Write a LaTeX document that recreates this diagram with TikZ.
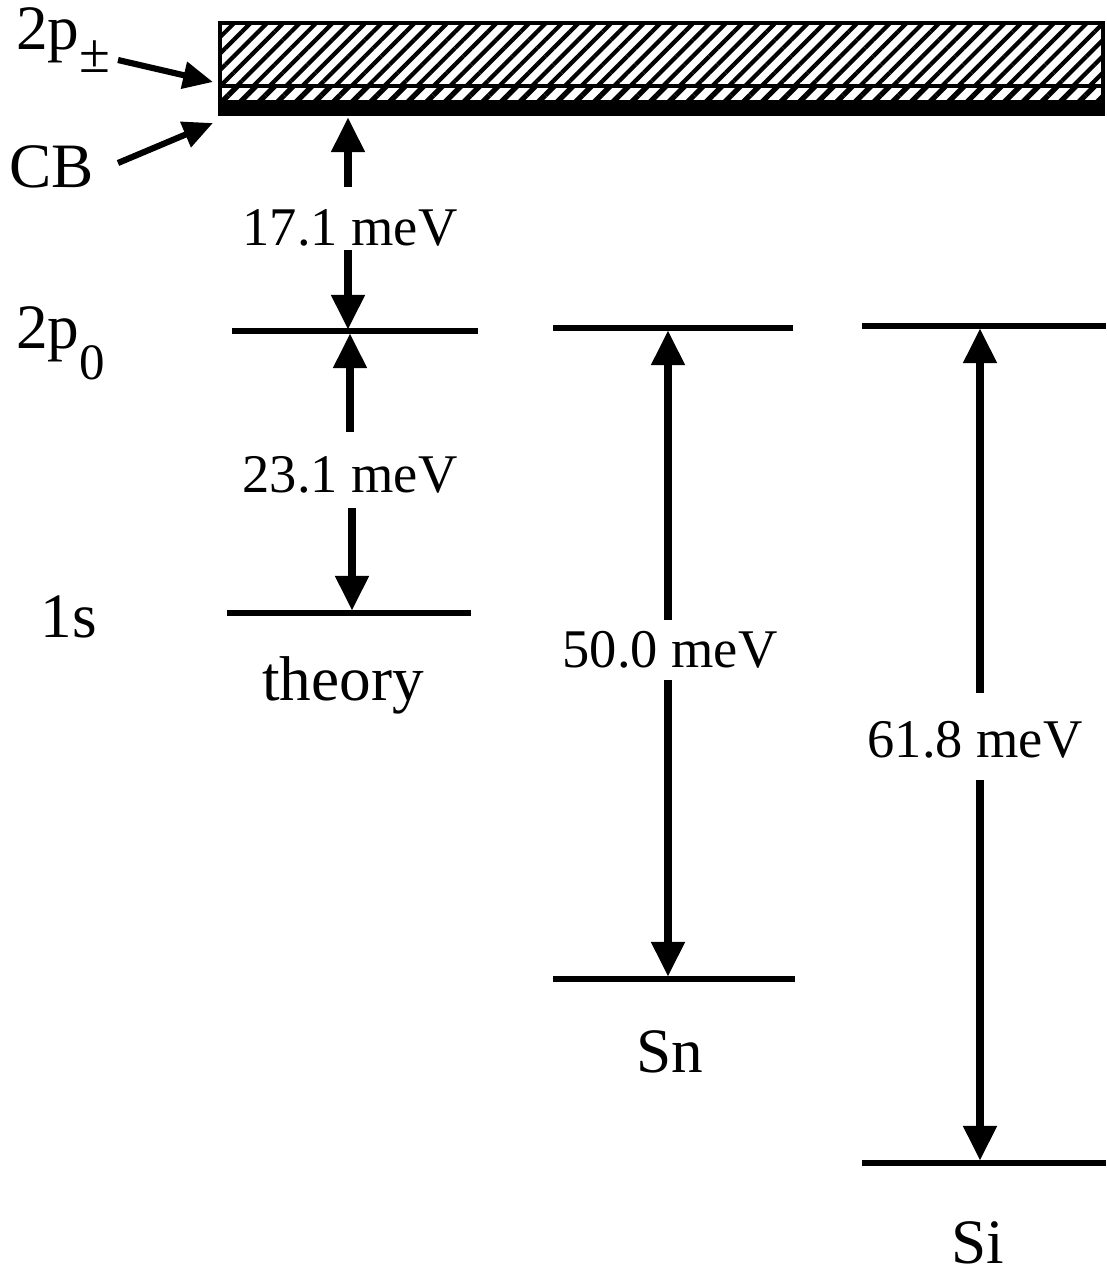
\documentclass[tikz,border=0pt]{standalone}
\usepackage{fontspec}
\setmainfont{Liberation Serif}
\usetikzlibrary{arrows.meta,patterns.meta}
\begin{document}
\begin{tikzpicture}[x=0.02cm,y=-0.02cm,
  level/.style={line width=3pt},
  gaparrow/.style={line width=5pt,-{Triangle[length=20pt,width=18pt]}},
  pointer/.style={line width=3.5pt,-{Triangle[length=17pt,width=15pt]}},
  big/.style={font=\fontsize{36}{40}\selectfont,inner sep=0pt},
  val/.style={font=\fontsize{31}{36}\selectfont,inner sep=0pt,anchor=base}]
\useasboundingbox (0,0) rectangle (1106,1274);

% conduction band with 2p+- band
\fill[pattern={Lines[angle=45,distance=6.6pt,line width=2.4pt]}] (220,22) rectangle (1103,86);
\fill[pattern={Lines[angle=45,distance=7.5pt,line width=3pt]}] (220,86) rectangle (1103,101);
\fill (219,100) rectangle (1104,116);
\draw[line width=1.8pt] (220,86) -- (1103,86);
\draw[line width=2.5pt] (1103,116) -- (1103,23) -- (220,23) -- (220,116);

% coordinates
\coordinate (pmTip) at (213,82);
\coordinate (cbTip) at (213,123);
\coordinate (cbA) at (348,117);
\coordinate (thP) at (348,330);
\coordinate (thP2) at (350,333);
\coordinate (thS) at (352,611);
\coordinate (snP) at (668,330);
\coordinate (snS) at (668,977);
\coordinate (siP) at (980,328);
\coordinate (siS) at (980,1161);

% levels
\draw[level] (232,331) coordinate (t2a) -- (478,331) coordinate (t2b);
\draw[level] (227,613) coordinate (t1a) -- (471,613) coordinate (t1b);
\draw[level] (553,328) coordinate (s2a) -- (793,328) coordinate (s2b);
\draw[level] (553,979) coordinate (s1a) -- (795,979) coordinate (s1b);
\draw[level] (862,326) coordinate (i2a) -- (1106,326) coordinate (i2b);
\draw[level] (862,1163) coordinate (i1a) -- (1106,1163) coordinate (i1b);

% left labels
\node[big,anchor=base west] (lpm) at (16,50) {2p\raisebox{-13pt}{\fontsize{32}{34}\selectfont ±}};
\node[big,anchor=base west] (lcb) at (9,187) {CB};
\node[big,anchor=base west] (lp0) at (16,348) {2p\raisebox{-18pt}{\fontsize{29}{30}\selectfont 0}};
\node[big,anchor=base] (l1s) at (69,637) {1s};

\coordinate (pmTail) at (118,60);
\coordinate (cbTail) at (118,163);
\draw[pointer] (pmTail) -- (pmTip);
\draw[pointer] (cbTail) -- (cbTip);

% value labels
\node[val] (v171) at (350,245) {17.1 meV};
\node[val] (v231) at (350,492) {23.1 meV};
\node[val] (v500) at (670,667) {50.0 meV};
\node[val] (v618) at (975,757) {61.8 meV};

\coordinate (a1) at (348,187);
\coordinate (a2) at (348,250);
\coordinate (a3) at (350,432);
\coordinate (a4) at (352,508);
\coordinate (a5) at (668,620);
\coordinate (a6) at (668,680);
\coordinate (a7) at (980,693);
\coordinate (a8) at (980,780);

\draw[gaparrow] (a1) -- (cbA);
\draw[gaparrow] (a2) -- (thP);
\draw[gaparrow] (a3) -- (thP2);
\draw[gaparrow] (a4) -- (thS);
\draw[gaparrow] (a5) -- (snP);
\draw[gaparrow] (a6) -- (snS);
\draw[gaparrow] (a7) -- (siP);
\draw[gaparrow] (a8) -- (siS);

% column labels
\node[big,anchor=base] (ltheory) at (343,700) {theory};
\node[big,anchor=base] (lsn) at (670,1072) {Sn};
\node[big,anchor=base] (lsi) at (978,1263) {Si};
\end{tikzpicture}
\end{document}
